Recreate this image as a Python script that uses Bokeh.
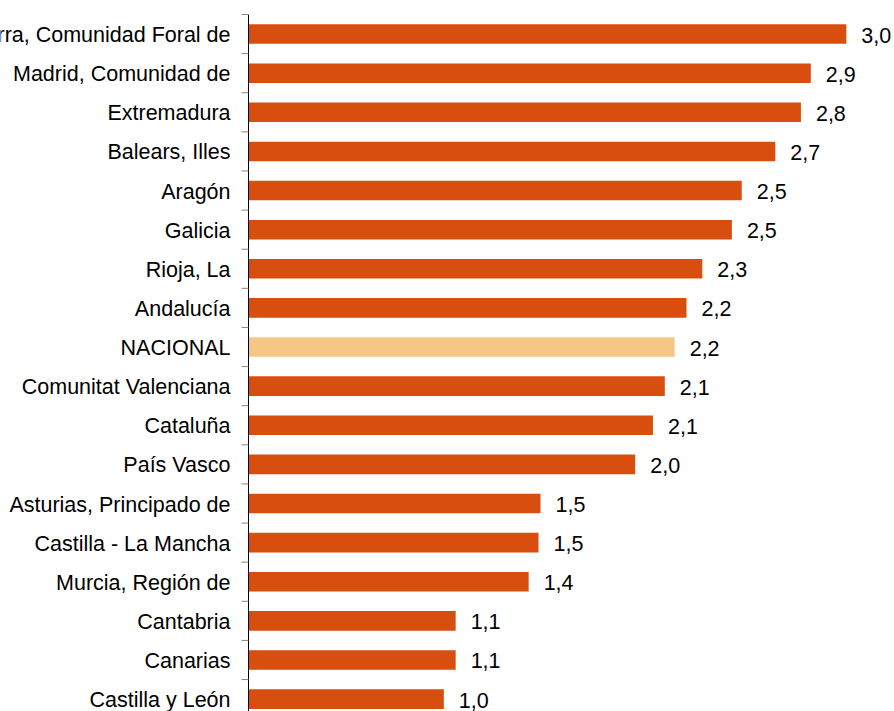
from bokeh.plotting import figure
from bokeh.models import Range1d, ColumnDataSource
from bokeh.embed import file_html
from bokeh.resources import INLINE
from bokeh.core.properties import value

regions = [
    "Navarra, Comunidad Foral de",
    "Madrid, Comunidad de",
    "Extremadura",
    "Balears, Illes",
    "Aragón",
    "Galicia",
    "Rioja, La",
    "Andalucía",
    "NACIONAL",
    "Comunitat Valenciana",
    "Cataluña",
    "País Vasco",
    "Asturias, Principado de",
    "Castilla - La Mancha",
    "Murcia, Región de",
    "Cantabria",
    "Canarias",
    "Castilla y León",
]
values = [3.03, 2.85, 2.80, 2.67, 2.50, 2.45, 2.30, 2.22, 2.16, 2.11, 2.05,
          1.96, 1.48, 1.47, 1.42, 1.05, 1.05, 0.99]
value_labels = ["3,0", "2,9", "2,8", "2,7", "2,5", "2,5", "2,3", "2,2", "2,2",
                "2,1", "2,1", "2,0", "1,5", "1,5", "1,4", "1,1", "1,1", "1,0"]
highlight = "NACIONAL"

FONT = value("Liberation Sans")
FS = "21.5px"

W, H = 894, 711
AXIS_X = 248          # pixel position of the value axis (x = 0)
PX_PER_UNIT = 197.3
ROW_PX = 39.12
TOP_PX = 14           # top of first category band

n = len(regions)
ys = list(range(n))
colors = ["#F6C784" if r == highlight else "#D84E0F" for r in regions]
source = ColumnDataSource(dict(y=ys, v=values, region=regions,
                               lab=value_labels, color=colors))

x0 = -AXIS_X / PX_PER_UNIT
x1 = (W - AXIS_X) / PX_PER_UNIT
y_top = -0.5 - TOP_PX / ROW_PX
y_bot = -0.5 + (H - TOP_PX) / ROW_PX

p = figure(width=W, height=H, output_backend="svg", toolbar_location=None,
           title=None, x_axis_location=None, y_axis_location=None,
           x_range=Range1d(x0, x1), y_range=Range1d(y_bot, y_top),
           min_border_left=0, min_border_right=0, min_border_top=0,
           min_border_bottom=0)
p.outline_line_color = None
p.xgrid.visible = False
p.ygrid.visible = False
p.background_fill_color = "white"
p.border_fill_color = "white"

p.hbar(y="y", right="v", left=0, height=0.5, fill_color="color",
       line_color=None, source=source)

# value labels
p.text(x="v", y="y", text="lab", x_offset=15, y_offset=1,
       text_baseline="middle", text_align="left", text_font=FONT,
       text_font_size=FS, text_color="black", source=source)

# category labels (left of the axis)
p.text(x=0, y="y", text="region", x_offset=-18, y_offset=1,
       text_baseline="middle", text_align="right", text_font=FONT,
       text_font_size=FS, text_color="black", source=source)

# category axis line and tick marks at band boundaries
p.segment(x0=[0], y0=[-0.5], x1=[0], y1=[n - 0.5], line_color="black",
          line_width=1)
boundaries = [i - 0.5 for i in range(n + 1)]
p.ray(x=[0] * len(boundaries), y=boundaries, length=7, length_units="screen",
      angle=3.141592653589793, line_color="#868686", line_width=1)

open("out.html", "w").write(file_html(p, INLINE))
